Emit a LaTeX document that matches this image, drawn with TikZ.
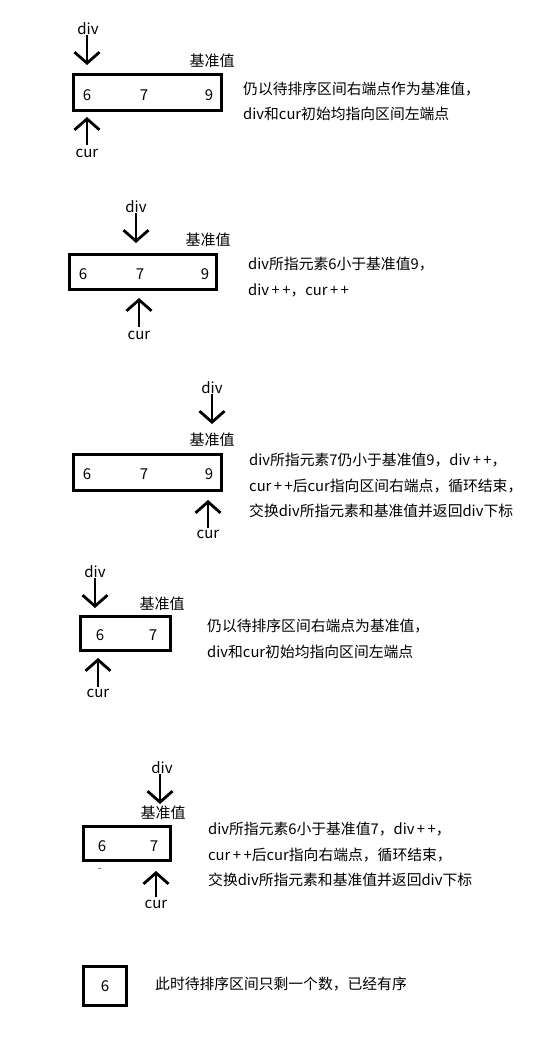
\documentclass[tikz,border=0pt]{standalone}
\usepackage{fontspec}
\setmainfont{Noto Sans CJK SC}
\usetikzlibrary{arrows.meta}
\tikzset{
  cell/.style={draw,line width=3pt,inner sep=0pt},
  ptr/.style={line width=2.8pt,-{Straight Barb[length=11pt,width=25pt]}},
  note/.style={anchor=west,align=left,inner sep=0pt,font=\fontsize{14.8}{25.5}\selectfont},
  lbl/.style={inner sep=0pt,font=\fontsize{15}{17}\selectfont}
}
\begin{document}
\begin{tikzpicture}[x=1pt,y=-1pt]
  \useasboundingbox (0,0) rectangle (545,1045);
  % step 1
  \node[cell,minimum width=148pt,minimum height=36pt] (b1) at (147.5,92.5) {};
  \draw
    (87,95) node[lbl] (b1a){6}
    (144,95) node[lbl] (b1b){7}
    (209,95) node[lbl] (b1c){9}
    (212,61) node[lbl] (p1){基准值}
    (88,29) node[lbl] (d1){div}
    (87,153) node[lbl] (c1){cur};
  \coordinate (d1e) at (87,65);
  \coordinate (c1s) at (87,145);
  \coordinate (c1e) at (87,117);
  \draw[ptr] (d1e |- d1.south) -- (d1e);
  \draw[ptr] (c1s) -- (c1e);
  \node[note] (t1) at (243,101.5) {仍以待排序区间右端点作为基准值，\\div和cur初始均指向区间左端点};
  % step 2
  \node[cell,minimum width=147pt,minimum height=35pt] (b2) at (143,272) {};
  \draw
    (83,274) node[lbl] (b2a){6}
    (140,274) node[lbl] (b2b){7}
    (205,274) node[lbl] (b2c){9}
    (208,240) node[lbl] (p2){基准值}
    (136,207) node[lbl] (d2){div}
    (139,335) node[lbl] (c2){cur};
  \coordinate (d2e) at (136,243);
  \coordinate (c2s) at (139,327);
  \coordinate (c2e) at (139,298);
  \draw[ptr] (d2e |- d2.south) -- (d2e);
  \draw[ptr] (c2s) -- (c2e);
  \node[note] (t2) at (248,277) {div所指元素6小于基准值9，\\div{\,+\,+}，cur{\,+\,+}};
  % step 3
  \node[cell,minimum width=148pt,minimum height=36pt] (b3) at (147.5,472.5) {};
  \draw
    (87,474) node[lbl] (b3a){6}
    (144,474) node[lbl] (b3b){7}
    (209,474) node[lbl] (b3c){9}
    (212,440) node[lbl] (p3){基准值}
    (212,388) node[lbl] (d3){div}
    (208,534) node[lbl] (c3){cur};
  \coordinate (d3e) at (212,424);
  \coordinate (c3s) at (208,528);
  \coordinate (c3e) at (208,500);
  \draw[ptr] (d3e |- d3.south) -- (d3e);
  \draw[ptr] (c3s) -- (c3e);
  \node[note] (t3) at (249,485.5) {div所指元素7仍小于基准值9，div{\,+\,+}，\\cur{\,+\,+}后cur指向区间右端点，循环结束，\\交换div所指元素和基准值并返回div下标};
  % step 4
  \node[cell,minimum width=90pt,minimum height=34pt] (b4) at (125.5,633.5) {};
  \draw
    (100,635) node[lbl] (b4a){6}
    (153,635) node[lbl] (b4b){7}
    (162,604) node[lbl] (p4){基准值}
    (95,572) node[lbl] (d4){div}
    (98,693) node[lbl] (c4){cur};
  \coordinate (d4e) at (95,608);
  \coordinate (c4s) at (98,687);
  \coordinate (c4e) at (98,658);
  \draw[ptr] (d4e |- d4.south) -- (d4e);
  \draw[ptr] (c4s) -- (c4e);
  \node[note] (t4) at (207,639) {仍以待排序区间右端点为基准值，\\div和cur初始均指向区间左端点};
  % step 5
  \node[cell,minimum width=87pt,minimum height=34pt] (b5) at (127,843.5) {};
  \draw
    (102,846) node[lbl] (b5a){6}
    (154,846) node[lbl] (b5b){7}
    (163,813) node[lbl] (p5){基准值}
    (162,768) node[lbl] (d5){div}
    (156,904) node[lbl] (c5){cur};
  \coordinate (d5e) at (160,804);
  \coordinate (c5s) at (156,897);
  \coordinate (c5e) at (156,871);
  \draw[ptr] (d5e |- d5.south) -- (d5e);
  \draw[ptr] (c5s) -- (c5e);
  \draw[line width=1pt,gray] (97.5,868) -- (100.5,868);
  \node[note] (t5) at (208,854.5) {div所指元素6小于基准值7，div{\,+\,+}，\\cur{\,+\,+}后cur指向右端点，循环结束，\\交换div所指元素和基准值并返回div下标};
  % step 6
  \node[cell,minimum width=43pt,minimum height=39pt] (b6) at (105,986) {};
  \node[lbl] (b6a) at (105,986) {6};
  \node[note] (t6) at (155,984) {此时待排序区间只剩一个数，已经有序};
\end{tikzpicture}
\end{document}
